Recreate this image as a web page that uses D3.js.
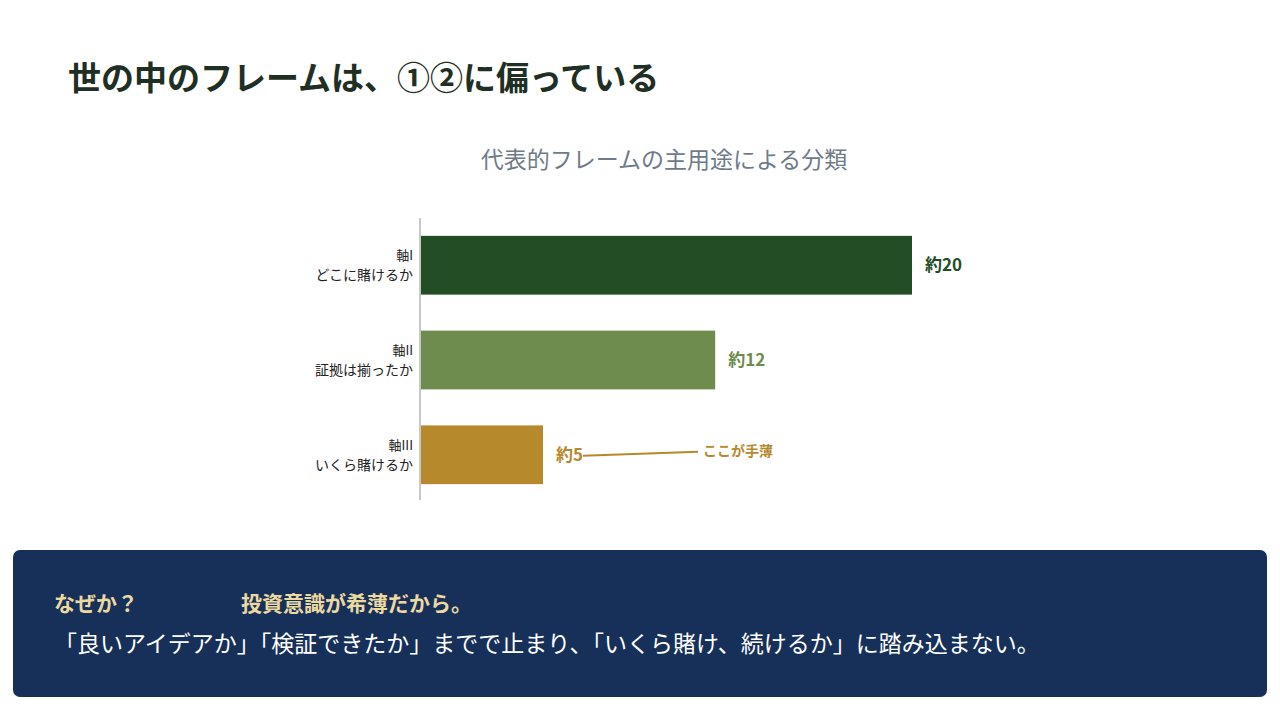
<!DOCTYPE html><html><head><meta charset="utf-8"><script src="https://cdn.jsdelivr.net/npm/d3@7"></script>
<style>body{margin:0;background:#fff}text{font-family:"Noto Sans CJK JP","Noto Sans",sans-serif}</style></head><body>
<svg id="c" width="1280" height="720"></svg>
<script>
const axisNames=["軸I","軸II","軸III"];
const axisDesc=["どこに賭けるか","証拠は揃ったか","いくら賭けるか"];
const values=[20,12,5];
const valueLabels=["約20","約12","約5"];
const colors=["#234d25","#6e8c4e","#b5892c"];
const svg=d3.select("#c");
svg.append("text").attr("x",68).attr("y",90).attr("font-size",33).attr("font-weight",700).attr("fill","#1f2f24").text("世の中のフレームは、①②に偏っている");
svg.append("text").attr("x",664).attr("y",168).attr("text-anchor","middle").attr("font-size",23).attr("fill","#6f7b88").text("代表的フレームの主用途による分類");
const x=d3.scaleLinear().domain([0,20]).range([420,912]);
const y=d3.scaleBand().domain(axisNames).range([215,505]).paddingInner(0.38).paddingOuter(0.22);
svg.append("line").attr("x1",420).attr("x2",420).attr("y1",218).attr("y2",500).attr("stroke","#c8c8c8").attr("stroke-width",2);
axisNames.forEach((n,i)=>{
  const yc=y(n)+y.bandwidth()/2;
  svg.append("rect").attr("x",x(0)+1).attr("y",y(n)).attr("width",x(values[i])-x(0)-1).attr("height",y.bandwidth()).attr("fill",colors[i]);
  svg.append("text").attr("x",x(values[i])+13).attr("y",yc+6).attr("font-size",17).attr("font-weight",700).attr("fill",colors[i]).text(valueLabels[i]);
  svg.append("text").attr("x",413).attr("y",yc-5).attr("text-anchor","end").attr("font-size",13).attr("fill","#222").text(n);
  svg.append("text").attr("x",413).attr("y",yc+15).attr("text-anchor","end").attr("font-size",14).attr("fill","#222").text(axisDesc[i]);
});
const y3=y(axisNames[2])+y.bandwidth()/2;
svg.append("line").attr("x1",x(values[2])+40).attr("y1",y3+1).attr("x2",698).attr("y2",y3-3).attr("stroke","#b5892c").attr("stroke-width",2);
svg.append("text").attr("x",703).attr("y",y3+1).attr("font-size",14).attr("font-weight",700).attr("fill","#b5892c").text("ここが手薄");
svg.append("rect").attr("x",13).attr("y",550).attr("width",1254).attr("height",147).attr("rx",7).attr("fill","#17305a");
svg.append("text").attr("x",54).attr("y",611).attr("font-size",21).attr("font-weight",700).attr("fill","#ecd9a0").text("なぜか？");
svg.append("text").attr("x",241).attr("y",611).attr("font-size",21).attr("font-weight",700).attr("fill","#ecd9a0").text("投資意識が希薄だから。");
svg.append("text").attr("x",54).attr("y",652).attr("font-size",23).attr("fill","#ffffff").text("「良いアイデアか」「検証できたか」までで止まり、「いくら賭け、続けるか」に踏み込まない。");
</script></body></html>
